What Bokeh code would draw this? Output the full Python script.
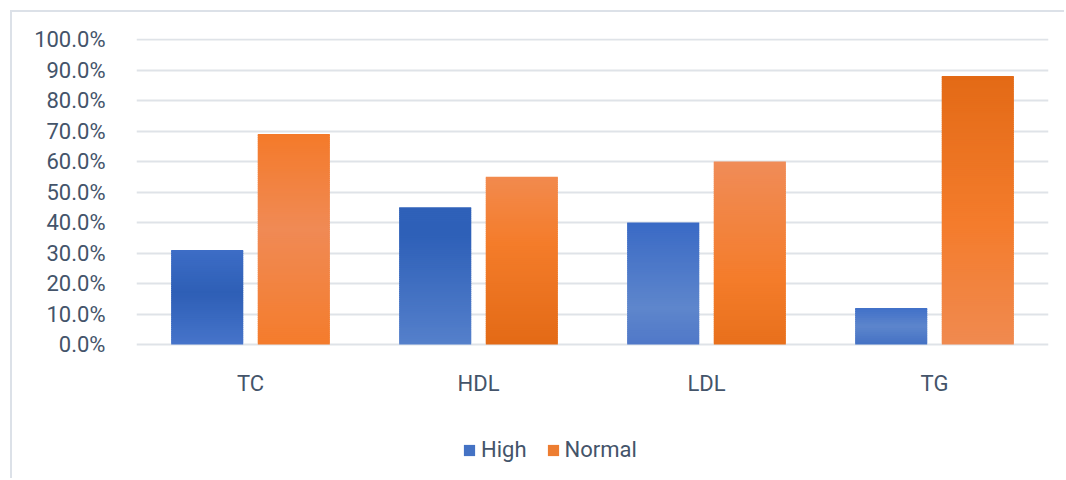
from bokeh.plotting import figure
from bokeh.models import (ColumnDataSource, FactorRange, Range1d, NumeralTickFormatter,
                          Legend, LegendItem, FixedTicker)
from bokeh.core.properties import value
from bokeh.transform import dodge
from bokeh.embed import file_html
from bokeh.resources import INLINE

# ---- data ----
categories = ["TC", "HDL", "LDL", "TG"]
high = [0.31, 0.45, 0.40, 0.12]
normal = [0.69, 0.55, 0.60, 0.88]
y_ticks = [0.0, 0.1, 0.2, 0.3, 0.4, 0.5, 0.6, 0.7, 0.8, 0.9, 1.0]
series_names = ["High", "Normal"]

# ---- styles ----
FONT = "Roboto"
TEXT_COLOR = "#44546A"
GRID_COLOR = "#DFE3E8"
BORDER_COLOR = "#DCE1E8"
HIGH_COLOR = "#4472C4"
NORMAL_COLOR = "#ED7D31"
# gradient stops: (fraction from bar bottom, colour)
high_grad = {
    "TC": [(0.0, "#4674CA"), (0.55, "#2E5FB6"), (1.0, "#3D6DC6")],
    "HDL": [(0.0, "#5580CB"), (0.8, "#2E60B8"), (1.0, "#2F61B9")],
    "LDL": [(0.0, "#5078C8"), (0.3, "#5E86CC"), (1.0, "#3A6AC5")],
    "TG": [(0.0, "#4472C4"), (0.5, "#5D85CC"), (1.0, "#4070C8")],
}
normal_grad = {
    "TC": [(0.0, "#F47C2C"), (0.55, "#F08A55"), (1.0, "#F47A2A")],
    "HDL": [(0.0, "#E36A16"), (0.6, "#F47C2A"), (1.0, "#F28A4E")],
    "LDL": [(0.0, "#E8701C"), (0.35, "#F47C2A"), (1.0, "#F08C58")],
    "TG": [(0.0, "#F08A50"), (0.45, "#F47C2C"), (1.0, "#E36A16")],
}
SLICES_PER_UNIT = 150          # gradient bands per 100 %
BAR_W = 0.316
OFFSET = 0.19
Y_MIN, Y_MAX = -0.4459, 1.0033  # frame extends below 0 to hold category labels + legend
CAT_LABEL_Y = -0.128


def hex2rgb(h):
    h = h.lstrip("#")
    return tuple(int(h[i:i + 2], 16) for i in (0, 2, 4))


def interp(stops, t):
    for (p0, c0), (p1, c1) in zip(stops[:-1], stops[1:]):
        if p0 <= t <= p1:
            f = 0 if p1 == p0 else (t - p0) / (p1 - p0)
            a, b = hex2rgb(c0), hex2rgb(c1)
            return "#%02x%02x%02x" % tuple(int(round(a[k] + (b[k] - a[k]) * f)) for k in range(3))
    return stops[-1][1]


def gradient_source(values, grads):
    # each bar is split into thin horizontal bands, slightly overlapping
    xs, bottoms, tops, colors = [], [], [], []
    for cat, v in zip(categories, values):
        n = max(2, int(round(v * SLICES_PER_UNIT)))
        step = v / n
        for j in range(n):
            xs.append(cat)
            bottoms.append(step * j)
            tops.append(min(v, step * (j + 1) + step * 0.5))
            colors.append(interp(grads[cat], (j + 0.5) / n))
    return ColumnDataSource(dict(x=xs, bottom=bottoms, top=tops, color=colors))


p = figure(
    x_range=FactorRange(*categories),
    y_range=Range1d(Y_MIN, Y_MAX),
    width=1054, height=468,
    x_axis_location=None,
    output_backend="svg", toolbar_location=None,
    min_border_left=124, min_border_right=18, min_border_top=26, min_border_bottom=0,
)
p.styles = {
    "margin-left": "10px", "margin-top": "10px",
    "border-left": "2px solid " + BORDER_COLOR,
    "border-top": "2px solid " + BORDER_COLOR,
}
p.outline_line_color = None
p.background_fill_color = "white"
p.border_fill_color = "white"

src_h = gradient_source(high, high_grad)
src_n = gradient_source(normal, normal_grad)
p.vbar(x=dodge("x", -OFFSET, range=p.x_range), width=BAR_W, bottom="bottom", top="top",
       fill_color="color", line_color=None, source=src_h)
p.vbar(x=dodge("x", OFFSET, range=p.x_range), width=BAR_W, bottom="bottom", top="top",
       fill_color="color", line_color=None, source=src_n)

# category labels (x axis)
p.text(x=categories, y=[CAT_LABEL_Y] * len(categories), text=categories,
       text_font=value(FONT), text_font_size="22px", text_color=TEXT_COLOR,
       text_align="center", text_baseline="middle")

# legend proxies (zero-height, invisible in the plot)
leg_h = p.vbar(x=[categories[0]], bottom=[0], top=[0], width=BAR_W,
               fill_color=HIGH_COLOR, line_color=None)
leg_n = p.vbar(x=[categories[0]], bottom=[0], top=[0], width=BAR_W,
               fill_color=NORMAL_COLOR, line_color=None)

# y axis
p.yaxis.ticker = FixedTicker(ticks=y_ticks)
p.yaxis.formatter = NumeralTickFormatter(format="0.0%")
ax = p.yaxis[0]
ax.axis_line_color = None
ax.major_tick_line_color = None
ax.minor_tick_line_color = None
ax.major_label_text_font = FONT
ax.major_label_text_font_size = "22px"
ax.major_label_text_color = TEXT_COLOR
ax.major_label_standoff = 25

p.xgrid.grid_line_color = None
p.ygrid.grid_line_color = GRID_COLOR
p.ygrid.grid_line_width = 2

legend = Legend(
    items=[LegendItem(label=series_names[0], renderers=[leg_h]),
           LegendItem(label=series_names[1], renderers=[leg_n])],
    orientation="horizontal", location=(326, 18),
    label_text_font=FONT, label_text_font_size="22px", label_text_color=TEXT_COLOR,
    glyph_width=14, glyph_height=14, label_standoff=5, spacing=19,
    label_height=22, padding=0, margin=0,
    border_line_color=None, background_fill_alpha=0,
)
p.add_layout(legend, "center")

open("out.html", "w").write(file_html(p, INLINE))
